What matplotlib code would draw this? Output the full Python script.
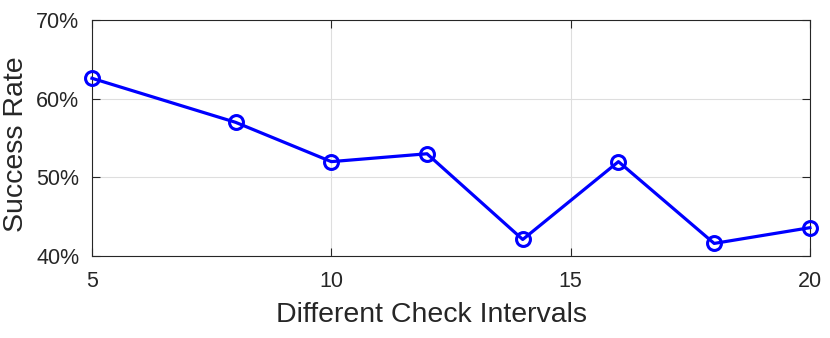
import matplotlib.pyplot as plt
from matplotlib.ticker import PercentFormatter

intervals = [5, 8, 10, 12, 14, 16, 18, 20]
success_rate = [62.6, 57.0, 52.0, 53.0, 42.1, 52.0, 41.6, 43.6]

plt.rcParams['font.family'] = ['Liberation Sans', 'DejaVu Sans']
txt = (0.15, 0.15, 0.15)

fig = plt.figure(figsize=(8.3, 3.38), dpi=100)
ax = fig.add_axes([0.1108, 0.2426, 0.865, 0.698])

ax.plot(intervals, success_rate, color='#0000ff', linewidth=2.3,
        marker='o', markersize=10, markerfacecolor='none',
        markeredgewidth=2.2, markeredgecolor='#0000ff', zorder=3,
        clip_on=False)

ax.set_xlim(5, 20)
ax.set_ylim(40, 70)
ax.set_xticks([5, 10, 15, 20])
ax.set_yticks([40, 50, 60, 70])
ax.yaxis.set_major_formatter(PercentFormatter(decimals=0))

ax.grid(True, color=(0.87, 0.87, 0.87), linewidth=0.8)
ax.set_axisbelow(True)
ax.tick_params(direction='in', top=True, right=True, length=6, width=0.8,
               labelsize=15.5, colors=txt)
ax.tick_params(axis='x', pad=11)
ax.tick_params(axis='y', pad=9)
for spine in ax.spines.values():
    spine.set_color(txt)
    spine.set_linewidth(0.8)

ax.set_xlabel('Different Check Intervals', fontsize=20.5, color=txt)
ax.set_ylabel('Success Rate', fontsize=20.5, color=txt)
ax.xaxis.set_label_coords(0.4735, -0.195)
ax.yaxis.set_label_coords(-0.088, 0.475)

fig.savefig('out.png', dpi=100)
